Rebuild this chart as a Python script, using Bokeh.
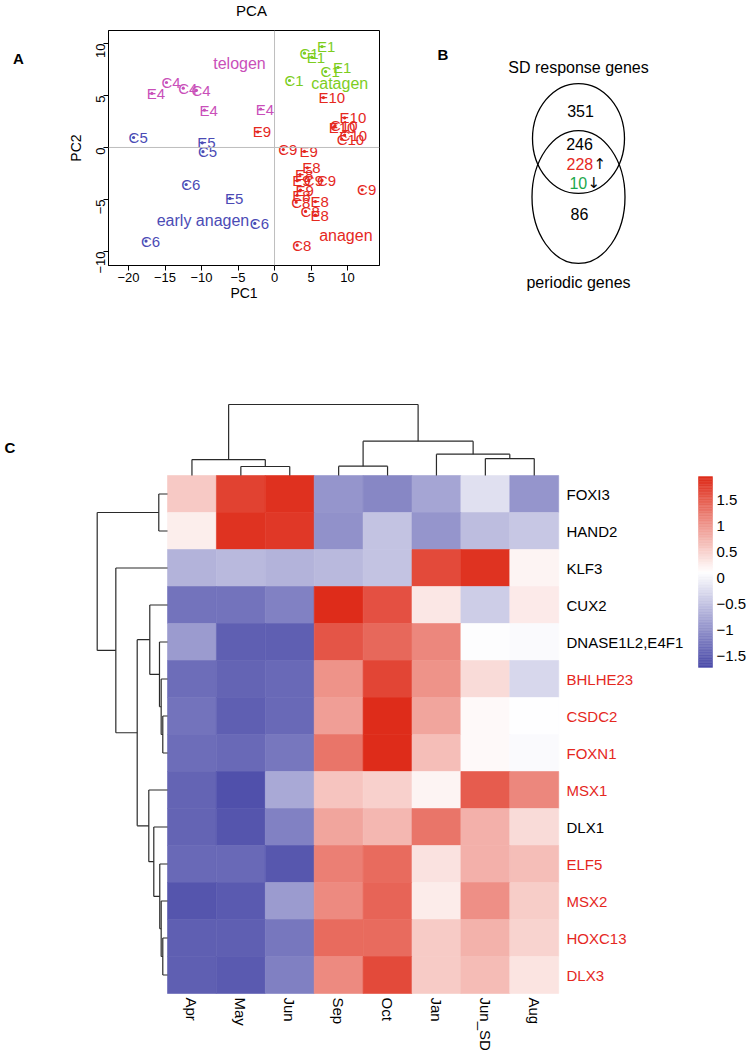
import numpy as np
from bokeh.plotting import figure
from bokeh.models import Range1d, Span, FixedTicker, ColumnDataSource
from bokeh.layouts import column, row
from bokeh.embed import file_html
from bokeh.resources import INLINE
from bokeh.core.properties import value
from bokeh.transform import linear_cmap

FONT = "Liberation Sans"

# ---------------- Panel A: PCA data ----------------
pca_label = ["E4", "C4", "C4", "C4", "E4", "E4",
             "C5", "E5", "C5", "C6", "E5", "C6", "C6",
             "E1", "C1", "E1", "C1", "E1", "C1",
             "E10", "E9", "E10", "C10", "E10", "C10", "C10", "C9", "E9", "E8", "E8",
             "C9", "C9", "E9", "C9", "E9", "E8", "C8", "E8", "C8", "E8", "C8"]
pca_x = [-16.8, -14.8, -12.5, -10.7, -9.6, -1.9,
         -19.3, -9.9, -9.8, -12.1, -6.1, -2.7, -17.6,
         6.5, 4.1, 5.1, 7.0, 8.7, 2.05,
         6.7, -2.3, 9.6, 8.3, 8.1, 9.6, 9.2, 1.2, 4.1, 4.5, 3.5,
         6.5, 12.0, 3.1, 4.7, 3.56, 3.1, 2.97, 5.6, 4.25, 5.6, 3.1]
pca_y = [5.2, 6.25, 5.7, 5.5, 3.6, 3.7,
         0.96, 0.45, -0.4, -3.56, -4.9, -7.3, -9.0,
         9.7, 9.07, 8.7, 7.3, 7.7, 6.44,
         4.8, 1.5, 2.85, 2.1, 1.95, 1.2, 0.8, -0.2, -0.38, -1.96, -2.6,
         -3.17, -4.07, -3.2, -3.2, -4.1, -4.6, -5.26, -5.2, -6.15, -6.5, -9.4]
pca_group = (["telogen"] * 6 + ["early anagen"] * 7 + ["catagen"] * 6 + ["anagen"] * 22)
group_names = ["telogen", "early anagen", "catagen", "anagen"]
group_colors = ["#C94FB9", "#4B4BB5", "#7DCD1E", "#E5281E"]
group_label_x = [-4.8, -9.8, 8.93, 9.77]
group_label_y = [8.08, -7.0, 6.18, -8.46]
pc1_ticks = [-20, -15, -10, -5, 0, 5, 10]
pc2_ticks = [-10, -5, 0, 5, 10]

# ---------------- Panel B: Venn data ----------------
venn_sets = ["SD response genes", "periodic genes"]
only_sd, both_total, both_up, both_down, only_periodic = 351, 246, 228, 10, 86

# ---------------- Panel C: heatmap data ----------------
months = ["Apr", "May", "Jun", "Sep", "Oct", "Jan", "Jun_SD", "Aug"]
genes = ["FOXI3", "HAND2", "KLF3", "CUX2", "DNASE1L2,E4F1", "BHLHE23", "CSDC2",
         "FOXN1", "MSX1", "DLX1", "ELF5", "MSX2", "HOXC13", "DLX3"]
gene_highlight = [False, False, False, False, False, True, True,
                  True, True, False, True, True, True, True]
expr = [
    [0.58, 1.75, 1.90, -0.95, -1.10, -0.80, -0.20, -0.95],
    [0.26, 1.89, 1.84, -1.00, -0.50, -0.95, -0.55, -0.45],
    [-0.65, -0.60, -0.65, -0.60, -0.50, 1.68, 1.89, 0.21],
    [-1.30, -1.30, -1.15, 1.94, 1.63, 0.32, -0.40, 0.30],
    [-0.90, -1.50, -1.50, 1.58, 1.42, 1.16, 0.10, 0.06],
    [-1.35, -1.45, -1.40, 1.05, 1.73, 1.05, 0.42, -0.30],
    [-1.30, -1.50, -1.40, 0.95, 1.94, 0.89, 0.16, 0.11],
    [-1.35, -1.40, -1.25, 1.31, 1.94, 0.68, 0.16, 0.06],
    [-1.45, -1.65, -0.75, 0.63, 0.53, 0.21, 1.52, 1.16],
    [-1.45, -1.60, -1.15, 0.89, 0.74, 1.31, 0.79, 0.42],
    [-1.40, -1.40, -1.58, 1.22, 1.40, 0.37, 0.80, 0.68],
    [-1.60, -1.55, -0.90, 1.12, 1.45, 0.28, 1.08, 0.55],
    [-1.50, -1.50, -1.26, 1.40, 1.40, 0.57, 0.78, 0.50],
    [-1.50, -1.55, -1.17, 1.13, 1.68, 0.57, 0.70, 0.35],
]
vmin, vmax = -1.72, 1.95
legend_ticks = [1.5, 1, 0.5, 0, -0.5, -1, -1.5]
legend_tick_text = ["1.5", "1", "0.5", "0", "\u22120.5", "\u22121", "\u22121.5"]

# hclust-style merges: negative = leaf (1-based, display order), positive = earlier merge
col_merges = [(-2, -3), (-1, 1), (-4, -5), (-7, -8), (-6, 4), (3, 5), (2, 6)]
col_heights = [1.27, 2.25, 1.31, 2.39, 3.0, 4.83, 10.0]
row_merges = [(-7, -8), (-13, -14), (-6, 1), (-12, 2), (-11, 4), (-5, 3), (-1, -2),
              (-10, 5), (-4, 6), (-9, 8), (9, 10), (-3, 11), (7, 12)]
row_heights = [0.67, 0.67, 0.9, 0.9, 1.1, 1.14, 1.24, 1.95, 2.52, 2.66, 4.31, 7.35, 10.0]

# ---------------- layout constants (page px) ----------------
TOP_H = 318
TITLE_H = 20
A_W = 50
PCA_W = 378
VENN_W = 322
HEAT_W = 750
HEAT_H = 732


def ramp(c0, c1, c2, n=256):
    def h2r(h):
        return np.array([int(h[i:i + 2], 16) for i in (1, 3, 5)], float)
    a, b, c = h2r(c0), h2r(c1), h2r(c2)
    out = []
    for t in np.linspace(0, 1, n):
        col = a + (b - a) * (t / 0.5) if t < 0.5 else b + (c - b) * ((t - 0.5) / 0.5)
        out.append("#%02x%02x%02x" % tuple(int(round(v)) for v in col))
    return out


palette = ramp("#4A4AA8", "#FFFFFF", "#DE2C1A")


def no_align(f):
    try:
        f.frame_align = False
    except Exception:
        pass
    return f


def dendro_segments(merges, heights):
    pos, hgt = {}, {}
    segs = []

    def get(c):
        if c < 0:
            return (-c - 1) + 0.5, 0.0
        return pos[c], hgt[c]
    for k, (a, b) in enumerate(merges, start=1):
        pa, ha = get(a)
        pb, hb = get(b)
        h = heights[k - 1]
        segs.append((pa, ha, pa, h))
        segs.append((pb, hb, pb, h))
        segs.append((pa, h, pb, h))
        pos[k] = (pa + pb) / 2.0
        hgt[k] = h
    return segs


def blank(w, h, xr, yr):
    f = figure(width=w, height=h, output_backend="svg", toolbar_location=None, title=None,
               x_range=xr, y_range=yr, min_border=0, x_axis_type=None, y_axis_type=None)
    f.grid.visible = False
    f.outline_line_color = None
    return no_align(f)


# ================= title strip for PCA =================
tfig = blank(A_W + PCA_W, TITLE_H, Range1d(0, A_W + PCA_W), Range1d(TITLE_H, 0))
tfig.text(x=[251], y=[10], text=["PCA"], text_align="center", text_baseline="middle",
          text_font=value(FONT), text_font_size="15px", text_color="black")

# ================= panel letter A =================
afig = blank(A_W, TOP_H - TITLE_H, Range1d(0, A_W), Range1d(TOP_H, TITLE_H))
afig.text(x=[18], y=[57.5], text=["A"], text_align="center", text_baseline="middle",
          text_font=value(FONT), text_font_size="15px", text_font_style="bold")

# ================= Panel A: PCA =================
X0, X1 = -22.74, 14.38
Y0, Y1 = -11.35, 11.25
pca = figure(width=PCA_W, height=TOP_H - TITLE_H, output_backend="svg",
             toolbar_location=None, title=None,
             x_range=Range1d(X0, X1), y_range=Range1d(Y0, Y1),
             min_border_left=108 - A_W, min_border_right=A_W + PCA_W - 379,
             min_border_top=30 - TITLE_H, min_border_bottom=TOP_H - 265)
no_align(pca)
pca.grid.visible = False
pca.outline_line_color = "black"
pca.outline_line_alpha = 1.0
pca.xaxis.ticker = FixedTicker(ticks=pc1_ticks)
pca.yaxis.ticker = FixedTicker(ticks=pc2_ticks)
pca.xaxis.axis_label = "PC1"
pca.yaxis.axis_label = "PC2"
for ax in (pca.xaxis[0], pca.yaxis[0]):
    ax.major_tick_out = 5
    ax.major_tick_in = 0
    ax.minor_tick_line_color = None
    ax.axis_line_color = "black"
    ax.major_tick_line_color = "black"
    ax.major_label_text_font = FONT
    ax.major_label_text_font_size = "13px"
    ax.major_label_text_color = "black"
    ax.axis_label_text_font = FONT
    ax.axis_label_text_font_size = "14px"
    ax.axis_label_text_font_style = "normal"
    ax.axis_label_text_color = "black"
pca.yaxis.major_label_orientation = np.pi / 2
pca.xaxis.major_label_standoff = 2
pca.xaxis.axis_label_standoff = 0
pca.yaxis.major_label_standoff = 3
pca.yaxis.axis_label_standoff = 5

pca.add_layout(Span(location=0, dimension="height", line_color="#BEBEBE", line_width=1))
pca.add_layout(Span(location=0, dimension="width", line_color="#BEBEBE", line_width=1))

gcol = dict(zip(group_names, group_colors))
src = ColumnDataSource(dict(x=pca_x, y=pca_y, t=pca_label,
                            c=[gcol[g] for g in pca_group]))
pca.scatter("x", "y", source=src, size=3.2, color="c", line_color=None)
pca.text("x", "y", text="t", source=src, text_color="c", text_align="left",
         text_baseline="middle", x_offset=-5, text_font=value(FONT),
         text_font_size="15px")
gsrc = ColumnDataSource(dict(x=group_label_x, y=group_label_y, t=group_names, c=group_colors))
pca.text("x", "y", text="t", source=gsrc, text_color="c", text_align="center",
         text_baseline="middle", text_font=value(FONT), text_font_size="16px")

# ================= Panel B: Venn =================
venn = blank(VENN_W, TOP_H, Range1d(428, 428 + VENN_W), Range1d(TOP_H, 0))
VX = 578
venn.ellipse(x=[VX, VX], y=[138, 196.5], width=[92, 93], height=[110, 133],
             fill_color=None, line_color="black", line_width=1.3)
vtext = ColumnDataSource(dict(
    x=[VX, VX, 580, 579, 579],
    y=[67, 282, 110, 143, 213],
    t=[venn_sets[0], venn_sets[1], str(only_sd), str(both_total), str(only_periodic)]))
venn.text("x", "y", text="t", source=vtext, text_align="center", text_baseline="middle",
          text_font=value(FONT), text_font_size="16px", text_color="black")
venn.text(x=[592.7, 586.7], y=[163, 182], text=[str(both_up), str(both_down)],
          text_color=["#E5281E", "#1BA84B"], text_align="right", text_baseline="middle",
          text_font=value(FONT), text_font_size="16px")
venn.text(x=[593, 587], y=[163, 182], text=["\u2191", "\u2193"], text_color="black",
          text_align="left", text_baseline="middle", text_font=value("DejaVu Sans"),
          text_font_size="15px")
venn.text(x=[442.5], y=[54], text=["B"], text_align="center", text_baseline="middle",
          text_font=value(FONT), text_font_size="15px", text_font_style="bold")

# ================= Panel C: heatmap =================
CELL_W, CELL_H = 48.9, 37.0
HM_LEFT, HM_TOP = 167.0, 475.0     # page px
FIG_LEFT, FIG_TOP = 0.0, float(TOP_H)


def px_x(px):
    return (px - HM_LEFT) / CELL_W


def px_y(py):
    return (py - HM_TOP) / CELL_H


heat = blank(HEAT_W, HEAT_H, Range1d(px_x(FIG_LEFT), px_x(FIG_LEFT + HEAT_W)),
             Range1d(px_y(FIG_TOP + HEAT_H), px_y(FIG_TOP)))

cx, cy, cv = [], [], []
for i, g in enumerate(genes):
    for j, m in enumerate(months):
        cx.append(j + 0.5)
        cy.append(i + 0.5)
        cv.append(expr[i][j])
csrc = ColumnDataSource(dict(x=cx, y=cy, v=cv))
cmap = linear_cmap("v", palette, vmin, vmax)
heat.rect("x", "y", width=1, height=1, source=csrc, fill_color=cmap, line_color=cmap,
          line_width=0.6)

# dendrograms
COL_PX_PER = 7.1
ROW_PX_PER = 7.03
cs = dendro_segments(col_merges, col_heights)
heat.segment(x0=[s[0] for s in cs], y0=[-s[1] * COL_PX_PER / CELL_H for s in cs],
             x1=[s[2] for s in cs], y1=[-s[3] * COL_PX_PER / CELL_H for s in cs],
             line_color="#2a2a2a", line_width=1.2)
rs = dendro_segments(row_merges, row_heights)
heat.segment(y0=[s[0] for s in rs], x0=[-s[1] * ROW_PX_PER / CELL_W for s in rs],
             y1=[s[2] for s in rs], x1=[-s[3] * ROW_PX_PER / CELL_W for s in rs],
             line_color="#2a2a2a", line_width=1.2)

# row labels
heat.text(x=[px_x(566)] * len(genes), y=[i + 0.5 for i in range(len(genes))], text=genes,
          text_color=["#E5281E" if h else "black" for h in gene_highlight],
          text_align="left", text_baseline="middle", text_font=value(FONT),
          text_font_size="15px")
# column labels
heat.text(x=[j + 0.5 for j in range(len(months))], y=[px_y(997)] * len(months), text=months,
          angle=-np.pi / 2, text_align="left", text_baseline="middle", text_color="black",
          text_font=value(FONT), text_font_size="15px")

# color legend
CB_ZERO, CB_SCALE = 577.5, 52.0


def cb_y(v):
    return px_y(CB_ZERO - CB_SCALE * v)


edges = np.linspace(vmin, vmax, 121)
mids = (edges[:-1] + edges[1:]) / 2
lsrc = ColumnDataSource(dict(top=[cb_y(e) for e in edges[1:]],
                             bottom=[cb_y(e) for e in edges[:-1]], v=list(mids)))
lmap = linear_cmap("v", palette, vmin, vmax)
heat.quad(left=px_x(698), right=px_x(712), top="top", bottom="bottom", source=lsrc,
          fill_color=lmap, line_color=lmap, line_width=0.5)
heat.text(x=[px_x(716)] * len(legend_ticks), y=[cb_y(v) for v in legend_ticks],
          text=legend_tick_text, text_align="left", text_baseline="middle",
          text_color="black", text_font=value(FONT), text_font_size="15px")

heat.text(x=[px_x(4)], y=[px_y(447)], text=["C"], text_align="left", text_baseline="middle",
          text_font=value(FONT), text_font_size="15px", text_font_style="bold")

left_top = column(tfig, row(afig, pca))
layout = column(row(left_top, venn), heat)
open("out.html", "w").write(file_html(layout, INLINE))
